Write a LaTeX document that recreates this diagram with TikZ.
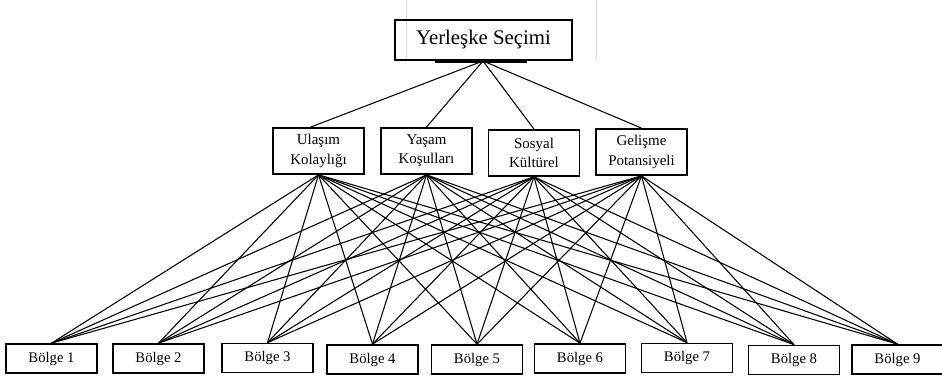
\documentclass[tikz,border=0pt]{standalone}
\usepackage{fontspec}
\setmainfont{Liberation Serif}
\tikzset{
  box/.style={draw, line width=1.3pt, align=center, inner sep=0pt},
  topbox/.style={box, minimum width=177*0.75pt, minimum height=40*0.75pt, font=\fontsize{15.6}{18}\selectfont},
  midbox/.style={box, minimum width=91*0.75pt, minimum height=46*0.75pt, font=\fontsize{11.2}{14.5}\selectfont},
  botbox/.style={box, minimum width=91*0.75pt, minimum height=29*0.75pt, font=\fontsize{11}{12}\selectfont},
  link/.style={draw, line width=0.8pt},
  guide/.style={draw, gray!30, line width=0.7pt}
}
\begin{document}
\begin{tikzpicture}[x=0.75pt,y=-0.75pt]
\useasboundingbox (0,0) rectangle (942,377);
% faint guide lines
\coordinate (g1a) at (406,0); \coordinate (g1b) at (406,60);
\coordinate (g2a) at (596,0); \coordinate (g2b) at (596,60);
\draw[guide] (g1a) -- (g1b);
\draw[guide] (g2a) -- (g2b);
% top
\node[topbox] (top) at (483.5,40) {\raisebox{2pt}{Yerleşke Seçimi}};
\coordinate (ta) at (435,61.5); \coordinate (tb) at (527,61.5);
\draw[line width=1.6pt] (ta) -- (tb);
\coordinate (tc) at (483,61);
% middle
\node[midbox] (m1) at (318.5,151) {Ulaşım\\Kolaylığı};
\node[midbox] (m2) at (426.5,151) {Yaşam\\Koşulları};
\node[midbox] (m3) at (534,153) {Sosyal\\Kültürel};
\node[midbox] (m4) at (641.5,152) {Gelişme\\Potansiyeli};
% bottom
\node[botbox] (b1) at (51.5,358.5) {Bölge 1};
\node[botbox] (b2) at (158.5,358.5) {Bölge 2};
\node[botbox] (b3) at (267.5,358) {Bölge 3};
\node[botbox] (b4) at (372.5,359.5) {Bölge 4};
\node[botbox] (b5) at (477,359.5) {Bölge 5};
\node[botbox] (b6) at (580,358.5) {Bölge 6};
\node[botbox] (b7) at (687,358) {Bölge 7};
\node[botbox] (b8) at (794,360) {Bölge 8};
\node[botbox] (b9) at (897.5,359.5) {Bölge 9};
% top to middle
\draw[link] (tc) -- ([xshift=-8*0.75pt]m1.north);
\draw[link] (tc) -- (m2.north);
\draw[link] (tc) -- (m3.north);
\draw[link] (tc) -- (m4.north);
% middle to bottom
\foreach \m in {m1,m2,m3,m4}{
  \foreach \b in {b1,b2,b3,b4,b5,b6,b7,b8,b9}{
    \draw[link] (\m.south) -- (\b.north);
  }
}
\end{tikzpicture}
\end{document}
